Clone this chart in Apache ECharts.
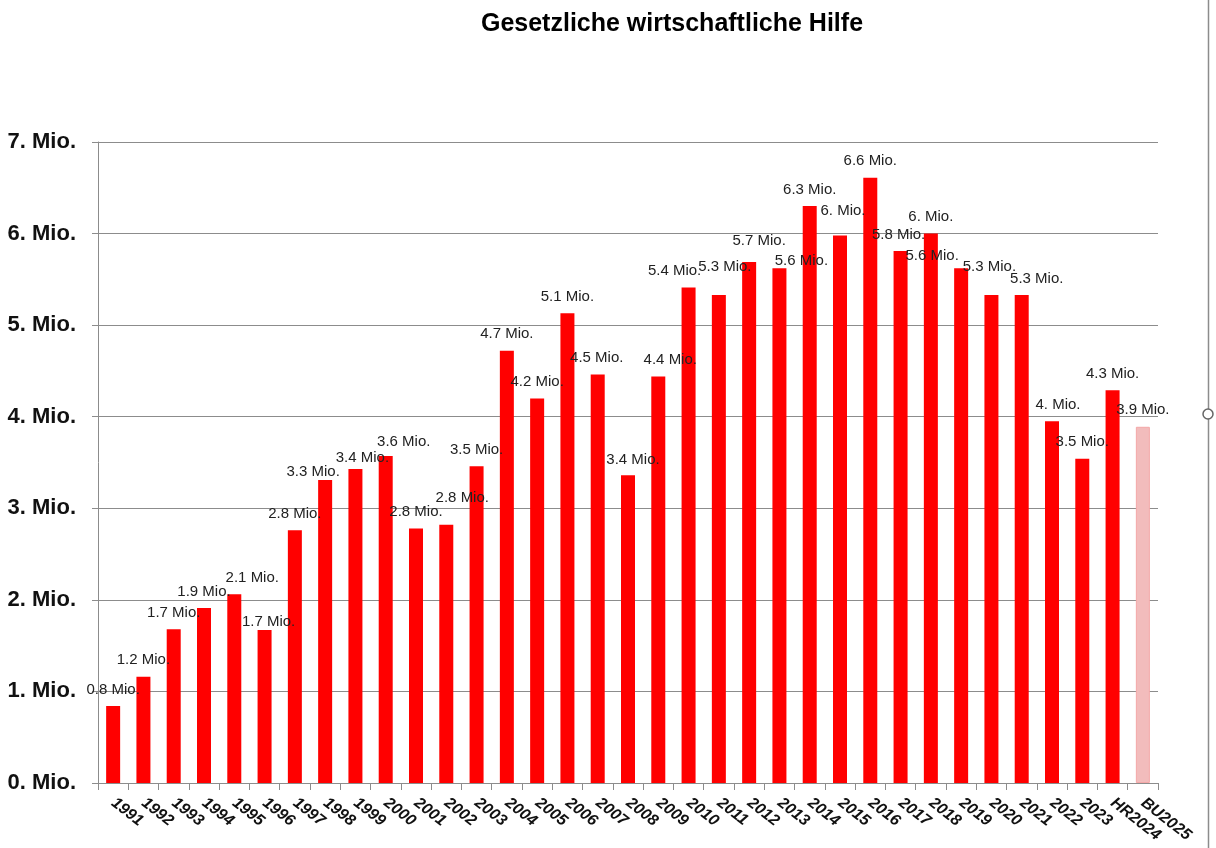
<!DOCTYPE html>
<html>
<head>
<meta charset="utf-8">
<script src="https://cdn.jsdelivr.net/npm/echarts@6/dist/echarts.min.js"></script>
<style>
  html, body { margin: 0; padding: 0; background: #fff; }
  #chart { width: 1216px; height: 848px; }
</style>
</head>
<body>
<div id="chart"></div>
<script>
// Jahre / Kategorien
const years = ['1991', '1992', '1993', '1994', '1995', '1996', '1997', '1998', '1999', '2000',
  '2001', '2002', '2003', '2004', '2005', '2006', '2007', '2008', '2009', '2010',
  '2011', '2012', '2013', '2014', '2015', '2016', '2017', '2018', '2019', '2020',
  '2021', '2022', '2023', 'HR2024', 'BU2025'];

// Werte in Mio.
const values = [0.84, 1.16, 1.68, 1.91, 2.06, 1.67, 2.76, 3.31, 3.43, 3.57,
  2.78, 2.82, 3.46, 4.72, 4.20, 5.13, 4.46, 3.36, 4.44, 5.41,
  5.33, 5.69, 5.62, 6.30, 5.98, 6.61, 5.81, 6.00, 5.62, 5.33,
  5.33, 3.95, 3.54, 4.29, 3.89];

// y-Achse
const yTicks = [0, 1, 2, 3, 4, 5, 6, 7];

// Label-Verschiebungen (wie im Excel-Original), Index -> [dx, dy]
const labelShift = {
  4: [18, 0], 5: [4, 8], 7: [-12, 8], 8: [7, 5], 9: [18, 2], 11: [16, -10],
  16: [-1, 0], 17: [5, 1], 18: [12, 0], 19: [-14, 0], 20: [6, -12], 21: [10, -5],
  22: [22, 9], 24: [3, -8], 26: [-2, 0], 28: [-29, 4], 29: [-2, -12], 30: [15, 0], 31: [6, 0]
};

function fmt(v) {
  const n = Math.round(v * 10) / 10;
  return (Number.isInteger(n) ? n + '.' : String(n)) + ' Mio.';
}

const barData = values.map((v, i) => {
  const item = { value: v };
  if (i === values.length - 1) {
    item.itemStyle = { color: '#f2bcbc', borderColor: '#f4a8a8', borderWidth: 1 };
  }
  if (labelShift[i]) {
    item.label = { offset: labelShift[i] };
  }
  return item;
});

const myChart = echarts.init(document.getElementById('chart'));

myChart.setOption({
  animation: false,
  title: {
    text: 'Gesetzliche wirtschaftliche Hilfe',
    left: 667,
    top: 7,
    textAlign: 'center',
    textStyle: {
      fontFamily: 'Liberation Sans, Arial, sans-serif',
      fontSize: 25,
      fontWeight: 'bold',
      color: '#000',
    },
  },
  grid: {
    left: 98,
    right: 58,
    top: 142,
    bottom: 65,
  },
  xAxis: {
    type: 'category',
    data: years,
    axisLine: { lineStyle: { color: '#8c8c8c', width: 1 } },
    axisTick: { show: true, length: 7, lineStyle: { color: '#8c8c8c' } },
    axisLabel: {
      rotate: -38,
      interval: 0,
      margin: 18,
      fontFamily: 'Liberation Sans, Arial, sans-serif',
      fontSize: 16,
      fontStyle: 'italic',
      fontWeight: 'bold',
      color: '#111',
    },
  },
  yAxis: {
    type: 'value',
    min: yTicks[0],
    max: yTicks[yTicks.length - 1],
    interval: 1,
    axisLine: { show: true, lineStyle: { color: '#8c8c8c' } },
    axisTick: { show: true, length: 6, lineStyle: { color: '#8c8c8c' } },
    splitLine: { show: true, lineStyle: { color: '#8c8c8c', width: 1 } },
    axisLabel: {
      margin: 22,
      fontFamily: 'Liberation Sans, Arial, sans-serif',
      fontSize: 22,
      fontWeight: 'bold',
      color: '#111',
      formatter: (v) => v + '. Mio.',
    },
  },
  series: [
    {
      type: 'bar',
      data: barData,
      barWidth: 14,
      itemStyle: { color: '#ff0000' },
      label: {
        show: true,
        position: 'top',
        distance: 9,
        fontFamily: 'Liberation Sans, Arial, sans-serif',
        fontSize: 15,
        color: '#222',
        formatter: (p) => fmt(p.value),
      },
    },
  ],
  graphic: [
    {
      type: 'line',
      shape: { x1: 1208.5, y1: 0, x2: 1208.5, y2: 848 },
      style: { stroke: '#8c8c8c', lineWidth: 1.5 },
    },
    {
      type: 'circle',
      shape: { cx: 1208, cy: 414, r: 5 },
      style: { fill: '#fff', stroke: '#666', lineWidth: 1.5 },
    },
  ],
});
</script>
</body>
</html>
